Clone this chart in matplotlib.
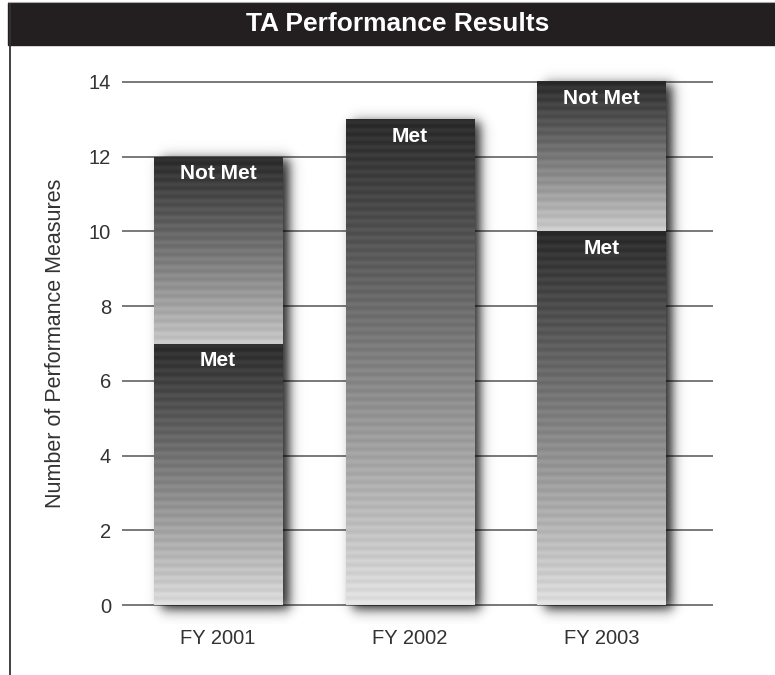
import numpy as np
import matplotlib.pyplot as plt
from matplotlib.patches import Rectangle
from matplotlib.lines import Line2D
from matplotlib import font_manager

# Datos
years = ['FY 2001', 'FY 2002', 'FY 2003']
met = [7, 13, 10]
not_met = [5, 0, 4]
y_ticks = [0, 2, 4, 6, 8, 10, 12, 14]

plt.rcParams['font.family'] = ['Liberation Sans', 'DejaVu Sans']

names = {f.name for f in font_manager.fontManager.ttflist}
title_font = 'Liberation Sans Narrow' if 'Liberation Sans Narrow' in names else 'Liberation Sans'


def gradient_img(h, dark, light, rows=300, stripes=True):
    # t=0 abajo (claro), t=1 arriba (oscuro)
    t = np.linspace(0, 1, rows)
    v = light + (dark - light) * t ** 0.9
    if stripes:
        v = v + 0.025 * np.sin(np.linspace(0, h * 9 * np.pi, rows))
    v = np.clip(v, 0, 1)
    return np.repeat(v[:, None], 4, axis=1)[:, :, None] * np.ones((1, 1, 3))


def smooth_box(xx, a, b, s):
    return 0.5 * (np.tanh((xx - a) / s) - np.tanh((xx - b) / s))


fig = plt.figure(figsize=(7.75, 6.75), dpi=100)

# Barra del título y borde izquierdo
fig.patches.append(Rectangle((8 / 775, 1 - 45 / 675), 1 - 8 / 775, 42 / 675,
                             transform=fig.transFigure, color='#231f20', zorder=0))
fig.text(0.513, 1 - 24 / 675, 'TA Performance Results', color='white',
         fontsize=19, fontweight='bold', family=[title_font, 'DejaVu Sans'],
         ha='center', va='center')
fig.lines.append(Line2D([10 / 775, 10 / 775], [0, 1 - 3 / 675], transform=fig.transFigure,
                        color='#333333', lw=1.3))
fig.lines.append(Line2D([8 / 775, 1], [1 - 2 / 675, 1 - 2 / 675], transform=fig.transFigure,
                        color='#aaaaaa', lw=0.8))

ax = fig.add_axes([122 / 775, (675 - 623.7) / 675, 591 / 775, 560.4 / 675])

x = np.arange(len(years))
width = 0.67
bars_met = ax.bar(x, met, width, color='none', zorder=3)
bars_not = ax.bar(x, not_met, width, bottom=met, color='none', zorder=3)

# Sombras difusas
for xi, m, n in zip(x, met, not_met):
    total = m + n
    x0, x1 = xi - width / 2 + 0.035, xi + width / 2 + 0.035
    y0, y1 = -0.12, total - 0.05
    sx, sy = 0.035, 0.19
    ext = (x0 - 4 * sx, x1 + 4 * sx, y0 - 4 * sy, y1 + 4 * sy)
    gx = np.linspace(ext[0], ext[1], 120)
    gy = np.linspace(ext[2], ext[3], 400)
    alpha = smooth_box(gx[None, :], x0, x1, sx) * smooth_box(gy[:, None], y0, y1, sy)
    img = np.zeros((len(gy), len(gx), 4))
    img[..., 3] = 0.85 * alpha
    ax.imshow(img, extent=ext, origin='lower', aspect='auto', zorder=2,
              interpolation='bilinear')

# Relleno degradado de cada segmento
for bars, lights in [(bars_met, [0.87, 0.89, 0.88]), (bars_not, [0.79, 0.79, 0.81])]:
    for rect, light in zip(bars, lights):
        h = rect.get_height()
        if h <= 0:
            continue
        bx, by, bw = rect.get_x(), rect.get_y(), rect.get_width()
        img = gradient_img(h, 0.17, light)
        ax.imshow(img, extent=(bx, bx + bw, by, by + h), origin='lower',
                  aspect='auto', zorder=3, interpolation='bilinear')

# Etiquetas de los segmentos
for bars, label in [(bars_met, 'Met'), (bars_not, 'Not Met')]:
    for rect in bars:
        h = rect.get_height()
        if h <= 0:
            continue
        ax.text(rect.get_x() + rect.get_width() / 2, rect.get_y() + h - 0.45, label,
                color='white', fontsize=15, fontweight='bold',
                ha='center', va='center', zorder=4)

for t in y_ticks:
    ax.axhline(t, color='#555555', lw=1.1, zorder=1)

ax.set_xlim(-0.5, 2.58)
ax.set_ylim(-0.5, 14.5)
ax.set_yticks(y_ticks)
ax.set_xticks(x)
ax.set_xticklabels(years)
ax.tick_params(length=0, labelsize=14.5, labelcolor='#333333')
ax.tick_params(axis='y', pad=8)
ax.tick_params(axis='x', pad=4)
for s in ax.spines.values():
    s.set_visible(False)
ax.set_ylabel('Number of Performance Measures', fontsize=15.5, color='#333333')
ax.yaxis.set_label_coords(-(122 - 66) / 591, 0.5)

fig.savefig('out.png', dpi=100)
